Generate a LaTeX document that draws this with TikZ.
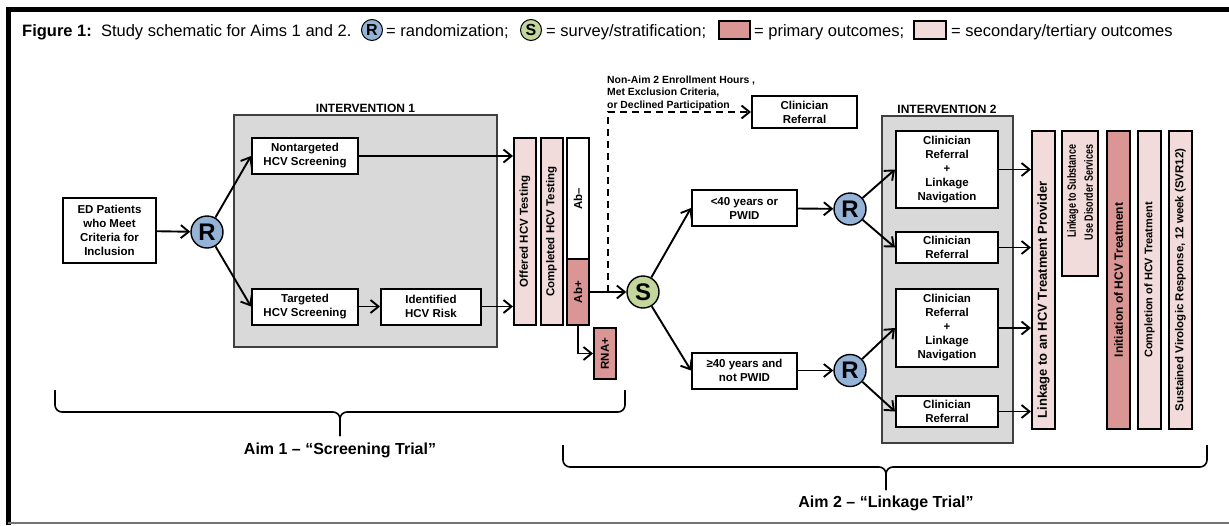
\documentclass[tikz,border=0pt]{standalone}
\usepackage{fontspec}
\setmainfont{Liberation Sans}
\newfontfamily\narrowsans[FakeStretch=0.75]{Liberation Sans}
\usetikzlibrary{arrows.meta,positioning,calc}

\definecolor{primefill}{RGB}{217,150,148}
\definecolor{secfill}{RGB}{242,220,219}
\definecolor{randfill}{RGB}{149,179,215}
\definecolor{stratfill}{RGB}{195,214,155}
\definecolor{intfill}{RGB}{217,217,217}

\tikzset{
  box/.style={draw, line width=2pt, fill=white, align=center, inner sep=0pt,
    font=\bfseries\fontsize{11.5}{14}\selectfont},
  bar/.style={box, rotate=90, minimum height=22pt, fill=secfill},
  randnode/.style={circle, draw, line width=1.4pt, fill=randfill, minimum size=32pt,
    inner sep=0pt, font=\bfseries\fontsize{24}{24}\selectfont},
  stratnode/.style={randnode, fill=stratfill},
  keynode/.style={minimum size=21pt, line width=1pt, font=\bfseries\fontsize{16}{16}\selectfont},
  keytext/.style={anchor=base west, inner sep=0pt, font=\fontsize{16.5}{18}\selectfont},
  intbox/.style={draw=black!75, line width=1.4pt, fill=intfill},
  intlabel/.style={anchor=base, inner sep=0pt, font=\bfseries\fontsize{12}{12}\selectfont},
  aimlabel/.style={inner sep=0pt, font=\bfseries\fontsize{16}{16}\selectfont},
  link/.style={line width=1.9pt, ->},
  brace/.style={line width=1.6pt, rounded corners=7pt},
  >={Straight Barb[length=8pt,width=13pt]}
}

\begin{document}
\begin{tikzpicture}[x=1pt,y=-1pt]
  \useasboundingbox (0,0) rectangle (1229,525);
  \draw[line width=5pt] (8,525) |- (1229,9);
  \draw[black!55, line width=2pt] (8,523) -- (1229,523);

  \node[keytext] (title) at (22,36) {\textbf{Figure 1:}\ \ Study schematic for Aims 1 and 2.};
  \node[randnode, keynode] (keyr) at (372,30) {R};
  \node[keytext] (keyrtext) at (386,36) {= randomization;};
  \node[stratnode, keynode] (keys) at (531,30) {S};
  \node[keytext] (keystext) at (546,36) {= survey/stratification;};
  \node[box, fill=primefill, minimum width=31pt, minimum height=18pt] (keyp) at (734,30) {};
  \node[keytext] (keyptext) at (754,36) {= primary outcomes;};
  \node[box, fill=secfill, minimum width=32pt, minimum height=18pt] (keysec) at (930,30) {};
  \node[keytext] (keysectext) at (951,36) {= secondary/tertiary outcomes};

  \node[intbox, minimum width=263pt, minimum height=232pt] (int1) at (365.5,231) {};
  \node[intlabel] (int1label) at (365.5,112.5) {INTERVENTION 1};
  \node[box, minimum width=93pt, minimum height=65pt] (ed) at (109.5,230.5) {ED Patients\\who Meet\\Criteria for\\Inclusion};
  \node[randnode] (r1) at (207,232) {R};
  \node[box, minimum width=106pt, minimum height=36pt] (nontarg) at (305,156) {Nontargeted\\HCV Screening};
  \node[box, minimum width=106pt, minimum height=36pt] (targ) at (305,306.5) {Targeted\\HCV Screening};
  \node[box, minimum width=100pt, minimum height=36pt] (risk) at (431,306.5) {Identified\\HCV Risk};

  \node[bar, minimum width=187pt] (offered) at (525,231.5) {Offered HCV Testing};
  \node[bar, minimum width=187pt] (completed) at (551.5,231.5) {Completed HCV Testing};
  \node[bar, fill=white, minimum width=121pt] (abneg) at (578,198.5) {Ab–};
  \node[bar, fill=primefill, minimum width=66pt] (abpos) at (578,292) {Ab+};
  \node[bar, fill=primefill, minimum width=51pt] (rna) at (605,353.5) {RNA+};

  \node[stratnode] (strat) at (643,292) {S};
  \coordinate (split) at (608,292);
  \node[anchor=base west, align=left, inner sep=0pt,
    font=\bfseries\fontsize{10.4}{12.3}\selectfont] (note) at (607,108)
    {Non-Aim 2 Enrollment Hours ,\\Met Exclusion Criteria,\\or Declined Participation};
  \node[box, minimum width=105pt, minimum height=32pt] (cr0) at (804.5,112) {Clinician\\Referral};

  \node[box, minimum width=105pt, minimum height=36pt] (young) at (744.5,208) {<40 years or\\PWID};
  \node[box, minimum width=105pt, minimum height=36pt] (old) at (744.5,370.5) {≥40 years and\\not PWID};
  \node[randnode] (r2) at (850,209) {R};
  \node[randnode] (r3) at (850,370.5) {R};

  \node[intbox, minimum width=131pt, minimum height=327pt] (int2) at (947.5,279.5) {};
  \node[intlabel] (int2label) at (947,113) {INTERVENTION 2};
  \node[box, minimum width=102pt, minimum height=77pt] (nav1) at (947,169.5) {Clinician\\Referral\\+\\Linkage\\Navigation};
  \node[box, minimum width=102pt, minimum height=31pt] (ref1) at (947,247.5) {Clinician\\Referral};
  \node[box, minimum width=102pt, minimum height=78pt] (nav2) at (947,328) {Clinician\\Referral\\+\\Linkage\\Navigation};
  \node[box, minimum width=102pt, minimum height=31pt] (ref2) at (947,411.5) {Clinician\\Referral};

  \node[bar, minimum width=298pt, minimum height=23pt, font=\bfseries\fontsize{13}{14}\selectfont] (linkprov) at (1043.5,280) {Linkage to an HCV Treatment Provider\hspace*{40pt}};
  \node[bar, minimum width=145pt, minimum height=36pt, align=right, font=\narrowsans\bfseries\fontsize{12}{17}\selectfont] (linksud) at (1080,203.5) {Linkage to Substance\\\hspace*{22pt}Use Disorder Services};
  \node[bar, fill=primefill, minimum width=298pt, minimum height=23pt, font=\bfseries\fontsize{12}{14}\selectfont] (init) at (1118.5,280) {Initiation of HCV Treatment};
  \node[bar, minimum width=298pt, minimum height=23pt, font=\bfseries\fontsize{11}{14}\selectfont] (compl) at (1149.5,280) {Completion of HCV Treatment};
  \node[bar, minimum width=298pt, minimum height=23pt] (svr) at (1180.5,280) {Sustained Virologic Response, 12 week (SVR12)};

  \draw[link] (ed) -- (r1);
  \draw[link] (r1) -- (nontarg.west);
  \draw[link] (r1) -- (targ.west);
  \draw[link] (nontarg) -- (nontarg -| offered.north);
  \draw[link] (targ) -- (risk);
  \draw[link] (risk) -- (risk -| offered.north);
  \draw[link] (abpos.south) -- (strat);
  \draw[link] (abpos.west) |- (rna.north);
  \draw[link, dash pattern=on 7pt off 5pt] (split) |- (cr0.west);
  \draw[link] (strat) -- (young.west);
  \draw[link] (strat) -- (old.west);
  \draw[link] (young) -- (r2);
  \draw[link] (old) -- (r3);
  \draw[link] (r2) -- (nav1.west);
  \draw[link] (r2) -- (ref1.west);
  \draw[link] (r3) -- (nav2.west);
  \draw[link] (r3) -- (ref2.west);
  \foreach \b in {nav1,ref1,nav2,ref2}
    \draw[link] (\b) -- (\b -| linkprov.north);

  \draw[brace] (55,390) |- (340,412) -- (340,436);
  \draw[brace] (625,390) |- (340,412) -- (340,436);
  \node[aimlabel] (aim1) at (340,450) {Aim 1 – “Screening Trial”};
  \draw[brace] (563,445) |- (886,467) -- (886,490);
  \draw[brace] (1207,445) |- (886,467) -- (886,490);
  \node[aimlabel] (aim2) at (886,503) {Aim 2 – “Linkage Trial”};
\end{tikzpicture}
\end{document}
